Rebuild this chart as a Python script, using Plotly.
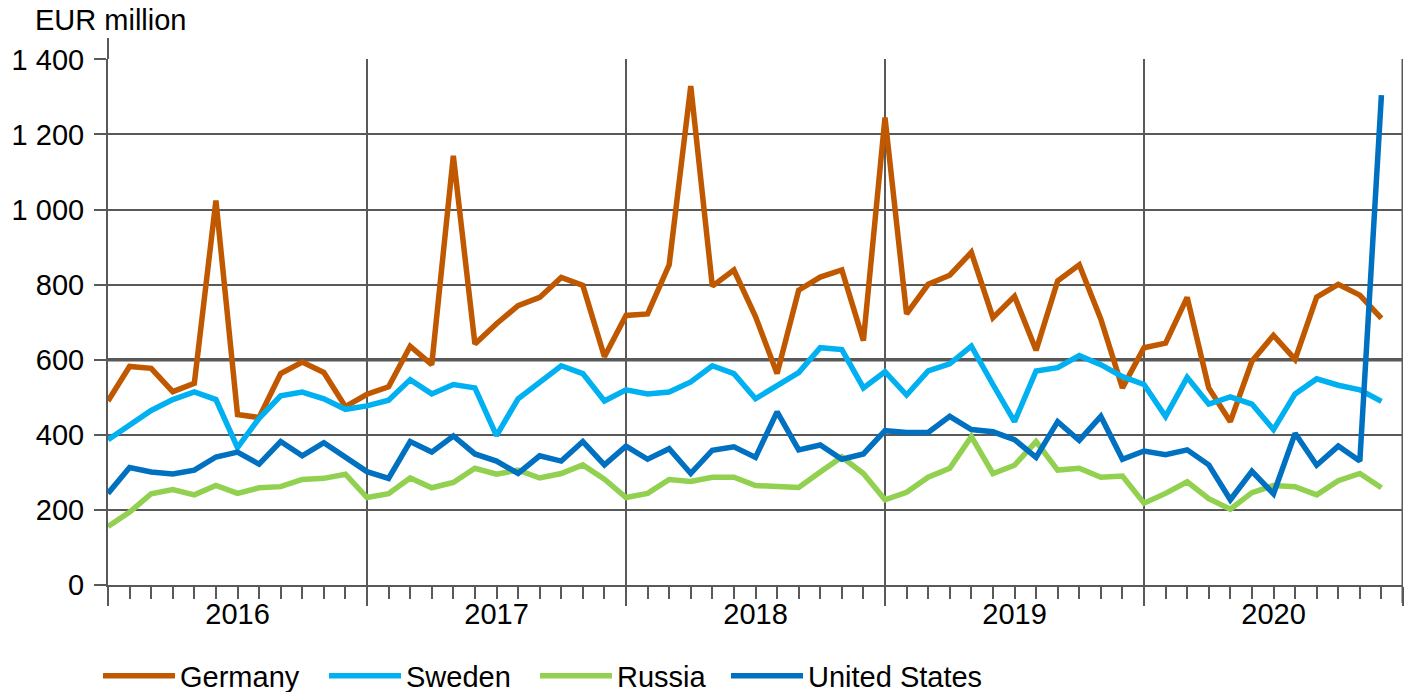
import plotly.graph_objects as go

# ---- data (EUR million, monthly Jan 2016 - Dec 2020) ----
years = ["2016", "2017", "2018", "2019", "2020"]
months = list(range(60))  # month index, Jan 2016 = 0

germany = [490, 582, 577, 515, 537, 1024, 454, 446, 563, 594, 566, 475,
           508, 528, 636, 587, 1143, 642, 696, 744, 766, 819, 798, 608,
           718, 722, 853, 1329, 796, 839, 715, 563, 785, 820, 839, 651,
           1245, 722, 801, 825, 886, 712, 769, 625, 810, 853, 708, 525,
           632, 644, 766, 525, 435, 596, 665, 601, 767, 801, 772, 710]
sweden = [387, 427, 465, 494, 514, 494, 366, 444, 504, 514, 496, 468,
          477, 492, 547, 509, 534, 525, 398, 496, 541, 584, 563, 490,
          520, 509, 514, 541, 584, 563, 496, 530, 566, 632, 627, 525,
          568, 506, 570, 589, 636, 534, 435, 570, 579, 611, 587, 555,
          534, 449, 553, 482, 501, 482, 414, 509, 549, 532, 520, 489]
russia = [156, 194, 243, 254, 240, 265, 244, 259, 262, 281, 284, 295,
          233, 243, 285, 259, 273, 311, 295, 306, 285, 297, 320, 282,
          233, 244, 281, 276, 287, 287, 265, 262, 260, 301, 341, 297,
          227, 247, 287, 311, 395, 297, 319, 382, 306, 311, 287, 290,
          218, 244, 275, 230, 202, 246, 265, 262, 240, 278, 297, 259]
united_states = [244, 313, 301, 296, 306, 341, 354, 322, 382, 344, 379, 340,
                 302, 284, 382, 354, 397, 349, 330, 297, 344, 330, 382, 320,
                 370, 335, 363, 297, 359, 368, 340, 461, 360, 373, 335, 349,
                 411, 406, 406, 449, 414, 408, 387, 340, 435, 385, 449, 335,
                 357, 347, 360, 320, 227, 303, 243, 404, 319, 370, 330, 1305]

series_names = ["Germany", "Sweden", "Russia", "United States"]
series_values = [germany, sweden, russia, united_states]
series_colors = ["#C05800", "#00B0F0", "#92D050", "#0070C0"]

y_tickvals = [0, 200, 400, 600, 800, 1000, 1200, 1400]
y_ticktext = ["0", "200", "400", "600", "800", "1 000", "1 200", "1 400"]

FONT = "Liberation Sans, Arial, sans-serif"
GRID = "#595959"
FS = 29

# body margin is removed in the page, so the figure fills the 1416x692 window
FIG_W, FIG_H = 1416, 692
M_L, M_R, M_T, M_B = 108, 13, 59, 107
PLOT_W = FIG_W - M_L - M_R
legend_px = [98, 324, 535, 726]   # left edge of each legend entry (page px)
legend_ids = ["legend", "legend2", "legend3", "legend4"]

fig = go.Figure()
for name, vals, col, lid in zip(series_names, series_values, series_colors, legend_ids):
    fig.add_trace(go.Scatter(x=months, y=vals, name=name, mode="lines",
                             line=dict(color=col, width=5.5), legend=lid))

# invisible trace to carry the year label axis
fig.add_trace(go.Scatter(x=[], y=[], xaxis="x2", showlegend=False, hoverinfo="skip"))

n_months = len(months)
year_bounds = list(range(0, n_months + 1, 12))
year_mids = [b + 6 for b in year_bounds[:-1]]

layout_legends = {}
for lid, px in zip(legend_ids, legend_px):
    layout_legends[lid] = dict(orientation="h", x=(px - M_L) / PLOT_W, xanchor="left",
                               y=-0.1245, yanchor="top",
                               font=dict(family=FONT, size=FS, color="black"),
                               itemwidth=72, bgcolor="rgba(0,0,0,0)")

fig.update_layout(
    width=FIG_W, height=FIG_H,
    margin=dict(l=M_L, r=M_R, t=M_T, b=M_B, autoexpand=False),
    paper_bgcolor="white", plot_bgcolor="white",
    font=dict(family=FONT, size=FS, color="black"),
    showlegend=True,
    xaxis=dict(range=[0, n_months], tickmode="array", tickvals=year_bounds,
               ticktext=["" for _ in year_bounds],
               showgrid=True, gridcolor=GRID, gridwidth=1.6,
               ticks="outside", ticklen=19, tickwidth=2, tickcolor=GRID,
               showline=True, linecolor=GRID, linewidth=2,
               minor=dict(dtick=1, tick0=0, ticks="outside", ticklen=12,
                          tickwidth=2, tickcolor=GRID, showgrid=False),
               zeroline=False, fixedrange=True, automargin=False),
    xaxis2=dict(range=[0, n_months], overlaying="x", anchor="y", side="bottom",
                tickmode="array", tickvals=year_mids, ticktext=years,
                ticks="outside", ticklen=3, tickcolor="rgba(0,0,0,0)",
                showgrid=False, showline=False, zeroline=False, automargin=False,
                tickfont=dict(family=FONT, size=FS, color="black")),
    yaxis=dict(range=[0, 1401], tickmode="array", tickvals=y_tickvals,
               ticktext=y_ticktext, showgrid=True, gridcolor=GRID, gridwidth=1.8,
               ticks="outside", ticklen=12, tickwidth=2, tickcolor=GRID,
               ticklabelstandoff=4, automargin=False,
               showline=True, linecolor=GRID, linewidth=2, zeroline=False,
               tickfont=dict(family=FONT, size=FS, color="black")),
    **layout_legends,
)

# emphasised 600 gridline
fig.add_hline(y=600, line=dict(color=GRID, width=3.5), layer="below")
# right border line extending below axis
fig.add_shape(type="line", xref="x", yref="paper", x0=n_months, x1=n_months,
              y0=-0.034, y1=1.0, line=dict(color=GRID, width=3))
# left axis line extends slightly above top
fig.add_shape(type="line", xref="paper", yref="paper", x0=0, x1=0,
              y0=1.0, y1=1.04, line=dict(color=GRID, width=2))

fig.add_annotation(text="EUR million", xref="paper", yref="paper",
                   x=-0.058, y=1.0735, xanchor="left", yanchor="middle",
                   showarrow=False, font=dict(family=FONT, size=FS, color="black"))

fig.write_html("out.html", config={"displayModeBar": False},
               post_script="document.body.style.margin='0';document.body.style.overflow='hidden';")
